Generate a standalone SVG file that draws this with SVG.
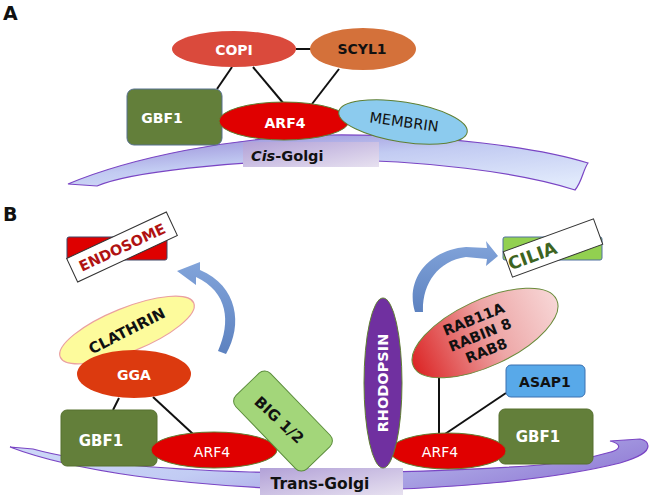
<svg xmlns="http://www.w3.org/2000/svg" width="650" height="499" viewBox="0 0 650 499">
<defs>
<style>
.t{font-family:"DejaVu Sans",Verdana,sans-serif;font-weight:bold;text-anchor:middle;font-size:14px}
.n{font-weight:normal}
.w{fill:#ffffff}
.k{fill:#111111}
.ln{stroke:#111;stroke-width:2;fill:none}
.gbf{fill:#637f3a;stroke:#56708f;stroke-width:1}
.arf{fill:#e00000;stroke:#5f7f32;stroke-width:1}
.mem{stroke:#7a45c4;stroke-width:1.2}
.arrow{fill:url(#arrG)}
</style>
<linearGradient id="memA" x1="0" y1="0" x2="0.7" y2="1"><stop offset="0" stop-color="#8f7ed2"/><stop offset="0.5" stop-color="#c2cbf2"/><stop offset="1" stop-color="#dfe8fb"/></linearGradient>
<linearGradient id="memB" x1="0" y1="0" x2="1" y2="0.3"><stop offset="0" stop-color="#cfdaf8"/><stop offset="0.45" stop-color="#c2ccf4"/><stop offset="1" stop-color="#9886d9"/></linearGradient>
<linearGradient id="lab" x1="0" y1="0" x2="1" y2="1"><stop offset="0" stop-color="#b2a1d7"/><stop offset="1" stop-color="#e7e1f0"/></linearGradient>
<linearGradient id="rab" x1="0" y1="0.5" x2="1" y2="0.5"><stop offset="0" stop-color="#dc2626"/><stop offset="0.55" stop-color="#eda6a6"/><stop offset="1" stop-color="#f7d6d6"/></linearGradient>
<linearGradient id="arrG" x1="0" y1="1" x2="0" y2="0"><stop offset="0" stop-color="#5d82c0"/><stop offset="1" stop-color="#82a4da"/></linearGradient>
</defs>
<rect width="650" height="499" fill="#ffffff"/>

<!-- Panel A -->
<text x="3" y="20" class="t k" style="text-anchor:start;font-size:19px">A</text>
<g id="cis-golgi">
<path class="mem" fill="url(#memA)" d="M68,184 C130,158 230,137 330,135 C440,134 540,148 588,163 C583,170 582,182 575,190 C520,172 420,160 330,160 C230,161 130,172 97,186 Z"/>
<rect x="243" y="142" width="136" height="25" fill="url(#lab)"/>
<text x="251" y="161" class="t k" style="text-anchor:start;font-size:14.5px"><tspan font-style="italic">Cis</tspan>-Golgi</text>
</g>
<g id="connectors-a">
<line class="ln" x1="296" y1="49" x2="312" y2="49"/>
<line class="ln" x1="232" y1="67" x2="217" y2="89"/>
<line class="ln" x1="253" y1="67" x2="284" y2="104"/>
<line class="ln" x1="339" y1="69" x2="312" y2="104"/>
</g>
<g id="gbf1-a"><rect class="gbf" x="127" y="89" width="95" height="56" rx="7"/><text x="162" y="123" class="t w">GBF1</text></g>
<g id="copi"><ellipse cx="234" cy="49" rx="62" ry="18" fill="#da4a3c"/><text x="234" y="55" class="t w">COPI</text></g>
<g id="scyl1"><ellipse cx="363" cy="49" rx="53" ry="21" fill="#d4713a"/><text x="362" y="54" class="t k">SCYL1</text></g>
<g id="arf4-a"><ellipse class="arf" cx="284" cy="121" rx="65" ry="19"/><text x="285" y="128" class="t w">ARF4</text></g>
<g id="membrin"><ellipse cx="403" cy="122" rx="65" ry="20" fill="#8ccbee" stroke="#5f7f32" stroke-width="1" transform="rotate(9 403 122)"/><text x="404" y="127" class="t n k" style="font-size:14.5px" transform="rotate(8 404 122)">MEMBRIN</text></g>

<!-- Panel B -->
<text x="3" y="221" class="t k" style="text-anchor:start;font-size:19px">B</text>
<g id="trans-golgi">
<path class="mem" fill="url(#memB)" d="M10,447 C70,470 180,487 325,490 C450,491 560,478 620,463 C640,457 648,452 648,446 C648,442 645,440 640,439 L610,441 C622,444 622,450 607,453 C590,458 560,463 540,465 C450,472 330,474 250,472 C150,469 80,462 33,449 Z"/>
<rect x="260" y="468" width="143" height="27" fill="url(#lab)"/>
<text x="320" y="489" class="t k" style="font-size:15.5px">Trans-Golgi</text>
</g>
<g id="connectors-b">
<line class="ln" x1="119" y1="398" x2="113" y2="410"/>
<line class="ln" x1="153" y1="397" x2="193" y2="434"/>
<line class="ln" x1="439" y1="377" x2="439" y2="434"/>
<line class="ln" x1="506" y1="393" x2="445" y2="434"/>
<path class="arrow" d="M226,354 C243,325 238,286 200,270 L200,262 L177,271 L196,285 L196,277 C228,292 231,322 218,351 Z"/>
<path class="arrow" d="M415,312 C405,280 428,250 466,247 L487,248 L486,241 L498,256 L486,266 L487,259 L466,257 C437,261 422,285 423,312 Z"/>
</g>
<g id="endosome">
<rect x="67" y="237" width="100" height="23" rx="2" fill="#de0000" stroke="#3f4666" stroke-width="1"/>
<g transform="rotate(-25 122 247)"><rect x="67" y="234" width="110" height="26" fill="#ffffff" stroke="#333" stroke-width="1"/><text x="122" y="252.5" class="t" fill="#b01212" style="font-size:14.5px">ENDOSOME</text></g>
</g>
<g id="cilia">
<rect x="503" y="237" width="99" height="23" rx="2" fill="#92d050" stroke="#5070a0" stroke-width="1"/>
<g transform="rotate(-20 553 248)"><rect x="505" y="234.5" width="96" height="27" fill="#ffffff" stroke="#333" stroke-width="1"/><text x="531" y="254.5" class="t" fill="#3d6421" style="font-size:17.5px">CILIA</text></g>
</g>
<g id="clathrin"><ellipse cx="127" cy="330" rx="72" ry="22" fill="#fdfb9c" stroke="#eaa0a0" stroke-width="1.2" transform="rotate(-22 127 330)"/><text x="127" y="336" class="t k" style="font-size:15px" transform="rotate(-27 127 331)">CLATHRIN</text></g>
<g id="gga"><ellipse cx="134" cy="374" rx="57" ry="24" fill="#dc3a0f"/><text x="134" y="380" class="t w">GGA</text></g>
<g id="gbf1-b1"><rect class="gbf" x="61" y="410" width="96" height="56" rx="6" style="stroke:#56702f"/><text x="101" y="446" class="t w" style="font-size:15px">GBF1</text></g>
<g id="arf4-b1"><ellipse class="arf" cx="214" cy="450" rx="63" ry="18"/><text x="212" y="457" class="t n w">ARF4</text></g>
<g id="big12"><rect x="232" y="397" width="102" height="48" rx="8" fill="#a3d67a" stroke="#5a8c3a" stroke-width="1" transform="rotate(46 283 421)"/><text x="279" y="425" class="t k" style="font-size:15px" transform="rotate(43 279 420)">BIG 1/2</text></g>
<g id="gbf1-b2"><rect class="gbf" x="499" y="409" width="94" height="55" rx="6" style="stroke:#56702f"/><text x="538" y="442" class="t w" style="font-size:15px">GBF1</text></g>
<g id="arf4-b2"><ellipse class="arf" cx="448" cy="451" rx="58" ry="18"/><text x="440" y="457" class="t n w">ARF4</text></g>
<g id="rhodopsin"><ellipse cx="383" cy="383" rx="19" ry="85" fill="#7030a0" stroke="#5f7f32" stroke-width="1"/><text x="383" y="388" class="t w" style="font-size:14.5px" transform="rotate(-90 383 383)">RHODOPSIN</text></g>
<g id="rab"><ellipse cx="485" cy="333" rx="79" ry="33" fill="url(#rab)" stroke="#6a8a3a" stroke-width="1" transform="rotate(-25 485 333)"/>
<text class="t k" style="font-size:14.5px" transform="rotate(-22 480 335)"><tspan x="480" y="323">RAB11A</tspan><tspan x="480" y="340">RABIN 8</tspan><tspan x="480" y="357">RAB8</tspan></text></g>
<g id="asap1"><rect x="506" y="365" width="79" height="32" rx="5" fill="#58a9e9" stroke="#3a70b0" stroke-width="1"/><text x="545" y="387" class="t k">ASAP1</text></g>
</svg>
